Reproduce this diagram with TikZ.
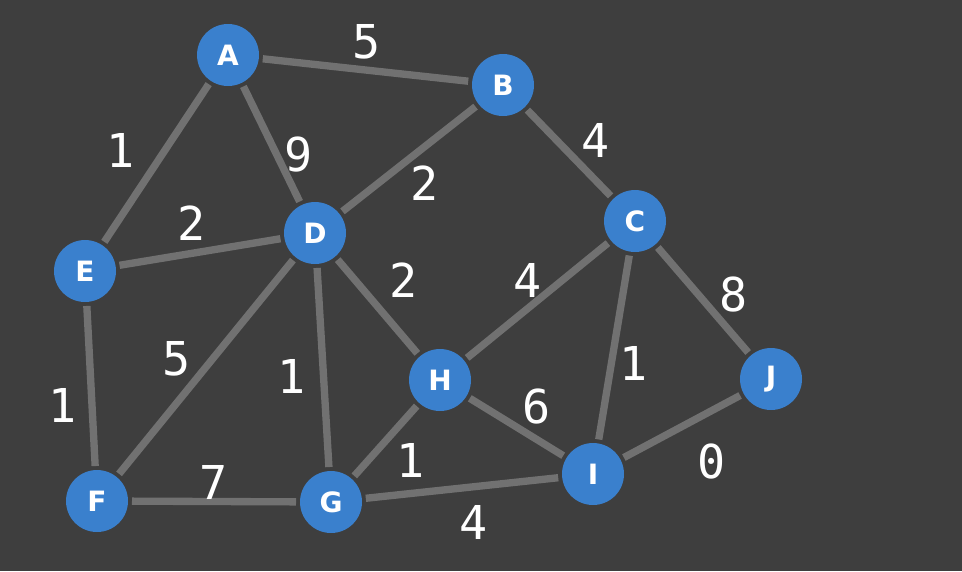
\documentclass[tikz,border=0pt]{standalone}
\usepackage{fontspec}
\setmainfont{DejaVu Sans}
\newfontfamily\monofont{DejaVu Sans Mono}
\definecolor{bgcol}{HTML}{3E3E3E}
\definecolor{nodecol}{HTML}{3A80CD}
\definecolor{edgecol}{HTML}{717171}
\tikzset{
	vert/.style={circle, fill=nodecol, minimum size=46.5pt, inner sep=0pt, outer sep=3pt, text=white, font=\fontsize{21}{21}\selectfont\bfseries},
	edge/.style={draw=edgecol, line width=5.5pt},
	wt/.style={text=white, font=\monofont\fontsize{35}{35}\selectfont}
}
\begin{document}
\begin{tikzpicture}[x=0.75pt, y=-0.75pt]
		\fill[bgcol] (0,0) rectangle (962,571);
		\useasboundingbox (0,0) rectangle (962,571);
		
		\node[vert] (A) at (228,55) {A};
		\node[vert] (B) at (503,85) {B};
		\node[vert] (C) at (635,221) {C};
		\node[vert] (D) at (315,233) {D};
		\node[vert] (E) at (85,271) {E};
		\node[vert] (F) at (97,501) {F};
		\node[vert] (G) at (331,502) {G};
		\node[vert] (H) at (440,380) {H};
		\node[vert] (I) at (593,474) {I};
		\node[vert] (J) at (771,379) {J};
		
		\foreach \u/\v in {A/B, A/E, A/D, B/D, B/C, E/D, E/F, D/F, D/G, D/H, H/C, C/I, C/J, H/I, H/G, F/G, G/I, I/J}
			\draw[edge] (\u) -- (\v);
		
		\node[wt] (wAB) at (367,42) {5};
		\node[wt] (wAE) at (121,150) {1};
		\node[wt] (wAD) at (299,155) {9};
		\node[wt] (wBD) at (425,183) {2};
		\node[wt] (wBC) at (596,140) {4};
		\node[wt] (wED) at (192,223) {2};
		\node[wt] (wDH) at (404,280) {2};
		\node[wt] (wHC) at (528,280) {4};
		\node[wt] (wCJ) at (734,295) {8};
		\node[wt] (wCI) at (634,363) {1};
		\node[wt] (wDF) at (177,359) {5};
		\node[wt] (wDG) at (292,376) {1};
		\node[wt] (wEF) at (63,405) {1};
		\node[wt] (wHI) at (537,407) {6};
		\node[wt] (wHG) at (411,460) {1};
		\node[wt] (wIJ) at (712,462) {0};
		\node[wt] (wFG) at (214,482) {7};
		\node[wt] (wGI) at (474,522) {4};
	\end{tikzpicture}
\end{document}
